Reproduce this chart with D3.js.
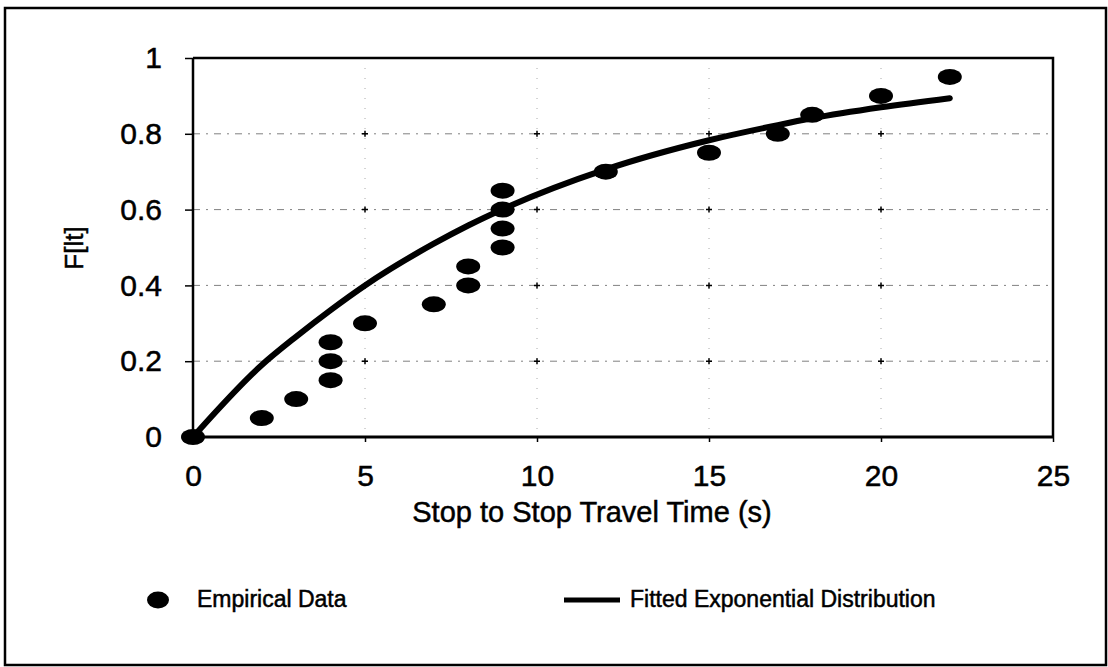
<!DOCTYPE html>
<html>
<head>
<meta charset="utf-8">
<script src="https://cdn.jsdelivr.net/npm/d3@7"></script>
<style>
body{margin:0;background:#fff;}
svg{display:block;font-family:"Liberation Sans",Arial,sans-serif;}
text{stroke:#000;stroke-width:0.5px;}
</style>
</head>
<body>
<div id="chart"></div>
<script>
// empirical CDF points (time in s, F)
let empTime = [0,2,3,4,4,4,5,7,8,8,9,9,9,9,12,15,17,18,20,22];
let empF = [0,0.05,0.1,0.15,0.2,0.25,0.3,0.35,0.4,0.45,0.5,0.55,0.6,0.65,0.7,0.75,0.8,0.85,0.9,0.95];

// fitted exponential curve
let fitTime = [0,2,3,4,5,7,8,9,12,15,17,18,20,22];
let fitF = [0,0.19,0.265,0.335,0.4,0.51,0.558,0.601,0.706,0.783,0.823,0.841,0.87,0.894];

let xTicks = [0,5,10,15,20,25];
let yTicks = [0,0.2,0.4,0.6,0.8,1];
let yTickLabels = ["0","0.2","0.4","0.6","0.8","1"];
let xTitle = "Stop to Stop Travel Time (s)";
let yTitle = "F[lt]";
let legendLabels = ["Empirical Data","Fitted Exponential Distribution"];

let width = 1108, height = 667;
let plot = {left:193, right:1053, top:58, bottom:437};

let svg = d3.select("#chart").append("svg")
    .attr("width",width)
    .attr("height",height);

// outer frame
svg.append("rect")
    .attr("x",5)
    .attr("y",8)
    .attr("width",1101)
    .attr("height",657)
    .attr("fill","none")
    .attr("stroke","#000")
    .attr("stroke-width",2.5);

let x = d3.scaleLinear([0,25],[plot.left,plot.right]);
let y = d3.scaleLinear([0,1],[plot.bottom,plot.top]);

// grid, faint like the scan
let grid = svg.append("g").classed("grid",true);

grid.selectAll("line.h")
    .data(yTicks.slice(1,-1))
    .enter()
    .append("line")
    .classed("h",true)
    .attr("x1",plot.left)
    .attr("x2",plot.right)
    .attr("y1",(v)=>y(v))
    .attr("y2",(v)=>y(v))
    .attr("stroke","#555")
    .attr("stroke-opacity",0.75)
    .attr("stroke-width",1)
    .attr("stroke-dasharray","7,6,2,6");

grid.selectAll("line.v")
    .data(xTicks.slice(1,-1))
    .enter()
    .append("line")
    .classed("v",true)
    .attr("x1",(v)=>x(v))
    .attr("x2",(v)=>x(v))
    .attr("y1",plot.top)
    .attr("y2",plot.bottom)
    .attr("stroke","#888")
    .attr("stroke-opacity",0.7)
    .attr("stroke-width",1)
    .attr("stroke-dasharray","1,9");

// little crosses where the grid lines meet
let crosses = [];
xTicks.slice(1,-1).forEach((tx)=>{
    yTicks.slice(1,-1).forEach((ty)=>crosses.push([tx,ty]));
});
grid.selectAll("path.cross")
    .data(crosses)
    .enter()
    .append("path")
    .classed("cross",true)
    .attr("d",(c)=>{
        let cx = x(c[0]), cy = y(c[1]);
        return "M"+(cx-3)+","+cy+"H"+(cx+3)+"M"+cx+","+(cy-3)+"V"+(cy+3);
    })
    .attr("stroke","#000")
    .attr("stroke-width",1.5);

// axes
let yAxis = d3.axisLeft(y)
    .tickValues(yTicks)
    .tickSize(8)
    .tickPadding(23)
    .tickFormat((d,i)=>yTickLabels[i]);

let xAxis = d3.axisBottom(x)
    .tickValues(xTicks)
    .tickSize(5)
    .tickPadding(23)
    .tickFormat(d3.format("d"));

let gy = svg.append("g")
    .attr("transform","translate("+plot.left+",0)")
    .call(yAxis);
let gx = svg.append("g")
    .attr("transform","translate(0,"+plot.bottom+")")
    .call(xAxis);

[gx,gy].forEach((g)=>{
    g.select(".domain").remove();
    g.selectAll(".tick line").attr("stroke","#000").attr("stroke-width",1.5);
    g.selectAll(".tick text")
        .attr("fill","#000")
        .style("font-size","30px")
        .style("font-family","'Liberation Sans',Arial,sans-serif");
});

// plot frame
svg.append("path")
    .attr("d","M"+plot.left+","+plot.top+"H"+plot.right+"V"+plot.bottom)
    .attr("fill","none")
    .attr("stroke","#000")
    .attr("stroke-width",2.5);
svg.append("line")
    .attr("x1",plot.left).attr("x2",plot.left)
    .attr("y1",plot.top).attr("y2",plot.bottom)
    .attr("stroke","#000")
    .attr("stroke-width",2.5);
svg.append("line")
    .attr("x1",plot.left).attr("x2",plot.right)
    .attr("y1",plot.bottom).attr("y2",plot.bottom)
    .attr("stroke","#000")
    .attr("stroke-width",3);

// axis titles
svg.append("text")
    .attr("x",592)
    .attr("y",522)
    .attr("text-anchor","middle")
    .style("font-size","29px")
    .text(xTitle);

svg.append("text")
    .attr("transform","translate(83,248) rotate(-90)")
    .attr("text-anchor","middle")
    .style("font-size","26px")
    .text(yTitle);

// fitted curve
let line = d3.line()
    .x((d,i)=>x(fitTime[i]))
    .y((d)=>y(d))
    .curve(d3.curveMonotoneX);

svg.append("path")
    .datum(fitF)
    .attr("d",line)
    .attr("fill","none")
    .attr("stroke","#000")
    .attr("stroke-width",6)
    .attr("stroke-linecap","round");

// empirical points
svg.append("g")
    .selectAll("ellipse")
    .data(empF)
    .enter()
    .append("ellipse")
    .attr("cx",(d,i)=>x(empTime[i]))
    .attr("cy",(d)=>y(d))
    .attr("rx",12)
    .attr("ry",8)
    .attr("fill","#000");

// legend
let legend = svg.append("g").classed("legend",true);
legend.append("ellipse")
    .attr("cx",158)
    .attr("cy",600)
    .attr("rx",11)
    .attr("ry",8.5)
    .attr("fill","#000");
legend.append("text")
    .attr("x",197)
    .attr("y",607)
    .style("font-size","23px")
    .text(legendLabels[0]);
legend.append("line")
    .attr("x1",564)
    .attr("x2",620)
    .attr("y1",600)
    .attr("y2",600)
    .attr("stroke","#000")
    .attr("stroke-width",5);
legend.append("text")
    .attr("x",630)
    .attr("y",607)
    .style("font-size","23px")
    .text(legendLabels[1]);
</script>
</body>
</html>
